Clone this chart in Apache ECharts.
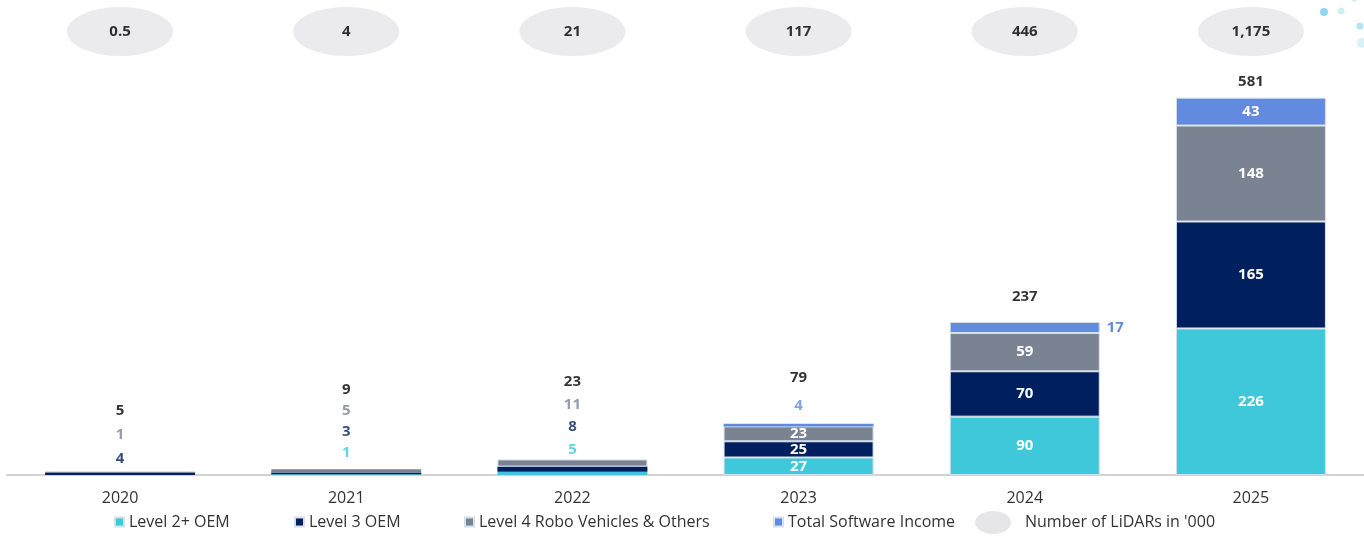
<!DOCTYPE html>
<html>
<head>
<meta charset="utf-8">
<script src="https://cdn.jsdelivr.net/npm/echarts@6/dist/echarts.min.js"></script>
<style>
  html, body { margin: 0; padding: 0; background: #ffffff; }
  #chart { width: 1364px; height: 537px; }
</style>
</head>
<body>
<div id="chart"></div>
<script>
// LiDAR revenue by segment (stacked) and LiDAR unit volumes
const years = ['2020', '2021', '2022', '2023', '2024', '2025'];
const level2Oem = [0, 1, 5, 27, 90, 226];
const level3Oem = [4, 3, 8, 25, 70, 165];
const level4Robo = [1, 5, 11, 23, 59, 148];
const softwareIncome = [0, 0, 0, 4, 17, 43];
const totals = [5, 9, 23, 79, 237, 581];
const lidarUnits = [0.5, 4, 21, 117, 446, 1175];

const FONT = "'Open Sans', 'Liberation Sans', sans-serif";
const ELLIPSE = 'path://M0,33.3A50,33.3 0 1,1 100,33.3A50,33.3 0 1,1 0,33.3Z';
const ELLIPSE_FILL = '#e6e6e8';
const LIDAR_NAME = "Number of LiDARs in '000";

// bottom-to-top stack order
const segments = [
  { key: 'l2', name: 'Level 2+ OEM', data: level2Oem, color: '#3ec8da' },
  { key: 'l3', name: 'Level 3 OEM', data: level3Oem, color: '#001f5f' },
  { key: 'l4', name: 'Level 4 Robo Vehicles & Others', data: level4Robo, color: '#7a8392' },
  { key: 'sw', name: 'Total Software Income', data: softwareIncome, color: '#628ade' }
];

const INSIDE_MIN = 20;   // segments tall enough to hold their own label
const SIDE_MIN = 10;     // thin top segment labelled beside the bar

function placement(segIdx, yearIdx) {
  const v = segments[segIdx].data[yearIdx];
  if (v <= 0) return 'none';
  if (v >= INSIDE_MIN) return 'inside';
  const othersInside = segments.every((s, k) =>
    k === segIdx || s.data[yearIdx] === 0 || s.data[yearIdx] >= INSIDE_MIN);
  if (v >= SIDE_MIN && othersInside) return 'right';
  return 'above';
}

const valueFont = { fontFamily: FONT, fontWeight: 'bold', fontSize: 15 };

const barSeries = segments.map((s, si) => ({
  name: s.name,
  type: 'bar',
  stack: 'revenue',
  barWidth: 150,
  xAxisIndex: 0,
  yAxisIndex: 0,
  itemStyle: { color: s.color, borderColor: '#d6dfec', borderWidth: 1 },
  data: s.data.map((v, yi) => {
    const p = placement(si, yi);
    const item = { value: v };
    // hairline segments keep their own colour without a separator edge
    if (v < 10) item.itemStyle = { borderWidth: 0 };
    if (p === 'inside') {
      item.label = Object.assign({ show: true, position: 'inside', color: '#ffffff' }, valueFont);
    } else if (p === 'right') {
      item.label = Object.assign({ show: true, position: 'right', distance: 7, color: s.color }, valueFont);
    } else {
      item.label = { show: false };
    }
    return item;
  })
}));

// label stack above each bar: total first, then the values too small for their segment
const stackLayout = [
  { distance: 1, lineHeight: 24 },
  { distance: 5, lineHeight: 21 },
  { distance: -1, lineHeight: 22.5 },
  { distance: 4, lineHeight: 28 },
  { distance: 13, lineHeight: 22 },
  { distance: 5, lineHeight: 22 }
];

function richFor(lineHeight) {
  const r = { t: Object.assign({ color: '#000000', lineHeight }, valueFont) };
  segments.forEach(s => { r[s.key] = Object.assign({ color: s.color, lineHeight }, valueFont); });
  return r;
}

function stackLabel(yi) {
  const lines = ['{t|' + totals[yi] + '}'];
  for (let si = segments.length - 1; si >= 0; si--) {
    if (placement(si, yi) === 'above') {
      lines.push('{' + segments[si].key + '|' + segments[si].data[yi] + '}');
    }
  }
  return lines.join('\n');
}

const totalSeries = {
  name: 'Total',
  type: 'scatter',
  xAxisIndex: 0,
  yAxisIndex: 0,
  symbolSize: 1,
  silent: true,
  z: 5,
  itemStyle: { color: 'rgba(0,0,0,0)' },
  data: totals.map((v, yi) => ({
    value: v,
    label: {
      show: true,
      position: 'top',
      distance: stackLayout[yi].distance,
      formatter: stackLabel(yi),
      rich: richFor(stackLayout[yi].lineHeight)
    }
  }))
};

const lidarSeries = {
  name: LIDAR_NAME,
  type: 'scatter',
  xAxisIndex: 1,
  yAxisIndex: 1,
  symbol: ELLIPSE,
  symbolSize: [106, 49],
  silent: true,
  itemStyle: { color: ELLIPSE_FILL },
  label: Object.assign({
    show: true,
    position: 'inside',
    color: '#000000',
    formatter: p => p.value[2].toLocaleString('en-US')
  }, valueFont),
  data: years.map((y, i) => [y, 'units', lidarUnits[i]])
};

const legendText = { color: '#333333', fontFamily: FONT, fontSize: 16 };
const legendLefts = [114, 294, 464, 773];
const legends = segments.map((s, i) => ({
  data: [s.name],
  left: legendLefts[i],
  top: 514,
  padding: 0,
  icon: 'rect',
  itemWidth: 9,
  itemHeight: 9,
  itemGap: 0,
  selectedMode: false,
  textStyle: legendText
}));
// the ellipse key is drawn as a graphic below; the legend slot only carries the text
legends.push({
  data: [LIDAR_NAME],
  left: 975,
  top: 511,
  padding: 0,
  icon: 'rect',
  itemWidth: 36,
  itemHeight: 23,
  itemStyle: { color: 'rgba(0,0,0,0)' },
  selectedMode: false,
  textStyle: Object.assign({ padding: [0, 0, 0, 9] }, legendText)
});

const decoDots = [
  { cx: 1324, cy: 12, r: 4, fill: '#8ed8eb' },
  { cx: 1341, cy: 11, r: 3.5, fill: '#cfeef6' },
  { cx: 1360, cy: 26, r: 3.5, fill: '#b3e5f1' },
  { cx: 1362, cy: 43, r: 5, fill: '#d9f2f8' },
  { cx: 1354, cy: -1, r: 3, fill: '#d3f0f7' }
];

const graphics = decoDots.map(d => ({
  type: 'circle', shape: { cx: d.cx, cy: d.cy, r: d.r },
  style: { fill: d.fill }, silent: true
}));
graphics.push({
  type: 'ellipse',
  shape: { cx: 993, cy: 522.5, rx: 18, ry: 11.5 },
  style: { fill: ELLIPSE_FILL },
  silent: true
});

const chart = echarts.init(document.getElementById('chart'), null, { renderer: 'canvas' });
chart.setOption({
  backgroundColor: '#ffffff',
  animation: false,
  textStyle: { fontFamily: FONT },
  grid: [
    { left: 7, width: 1360, top: 86, height: 389 },
    { left: 7, width: 1360, top: 7, height: 49 }
  ],
  xAxis: [
    {
      type: 'category', gridIndex: 0, data: years,
      axisLine: { lineStyle: { color: '#d2d2d2', width: 2 } },
      axisTick: { show: false },
      axisLabel: { color: '#333333', fontFamily: FONT, fontSize: 16, margin: 15 }
    },
    { type: 'category', gridIndex: 1, data: years, show: false }
  ],
  yAxis: [
    { type: 'value', gridIndex: 0, min: 0, max: 600, show: false, splitLine: { show: false } },
    { type: 'category', gridIndex: 1, data: ['units'], show: false }
  ],
  legend: legends,
  graphic: graphics,
  series: barSeries.concat([totalSeries, lidarSeries])
});
</script>
</body>
</html>
